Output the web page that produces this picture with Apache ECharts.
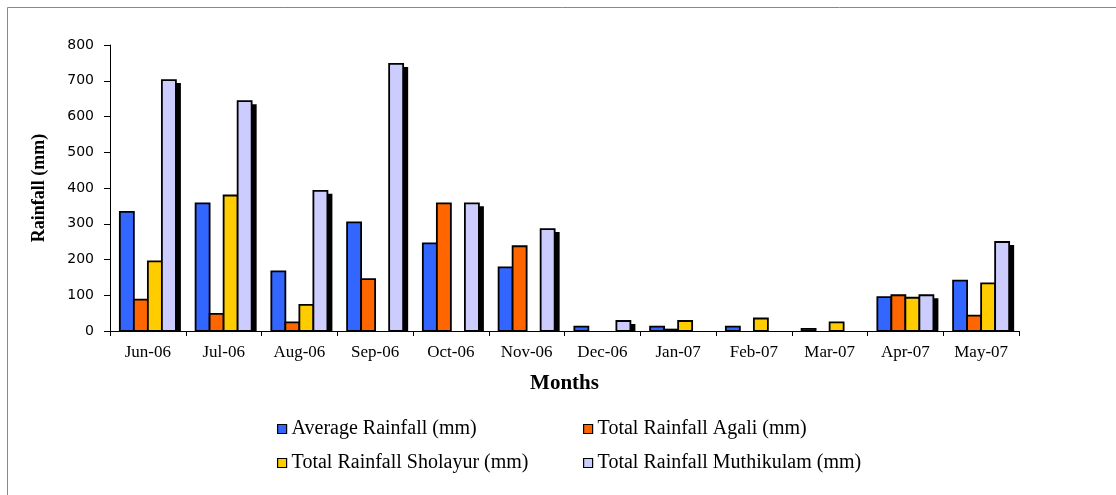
<!DOCTYPE html>
<html>
<head>
<meta charset="utf-8">
<script src="https://cdn.jsdelivr.net/npm/echarts@6/dist/echarts.min.js"></script>
<style>
  html, body { margin: 0; padding: 0; background: #fff; }
  #chart { width: 1116px; height: 495px; }
</style>
</head>
<body>
<div id="chart"></div>
<script>
// Monthly rainfall, June 2006 – May 2007 (mm)
const months = ['Jun-06', 'Jul-06', 'Aug-06', 'Sep-06', 'Oct-06', 'Nov-06',
                'Dec-06', 'Jan-07', 'Feb-07', 'Mar-07', 'Apr-07', 'May-07'];
const averageRainfall = [333, 357, 167, 304, 245, 178, 12, 12, 12, 6, 95, 141];
const agaliRainfall = [88, 48, 24, 145, 357, 237, null, 4, null, null, 100, 43];
const sholayurRainfall = [195, 379, 73, null, null, null, null, 28, 35, 24, 93, 133];
const muthikulamRainfall = [702, 643, 392, 747, 357, 285, 28, null, null, null, 100, 249];
const yTicks = { min: 0, max: 800, interval: 100 };

const seriesNames = ['Average Rainfall (mm)', 'Total Rainfall Agali (mm)',
                     'Total Rainfall Sholayur (mm)', 'Total Rainfall Muthikulam (mm)'];
const seriesColors = ['#3366FF', '#FF6600', '#FFCC00', '#CCCCFF'];
const seriesData = [averageRainfall, agaliRainfall, sholayurRainfall, muthikulamRainfall];

const serif = '"Liberation Serif", "Times New Roman", serif';
const sans = '"DejaVu Sans", Verdana, sans-serif';

const GROUP_FILL = 0.74;       // share of each category band taken by the bar group
const SHADOW_DX = 5, SHADOW_DY = 3;

const chart = echarts.init(document.getElementById('chart'), null, { renderer: 'canvas' });

// one legend per entry so the four items sit in a 2x2 arrangement
const legendSlots = [
  { left: 277, top: 419 }, { left: 583, top: 419 },
  { left: 277, top: 453 }, { left: 583, top: 453 }
];
const legends = seriesNames.map((name, i) => ({
  data: [name],
  left: legendSlots[i].left,
  top: legendSlots[i].top,
  padding: 0,
  icon: 'rect',
  itemWidth: 9,
  itemHeight: 9,
  selectedMode: false,
  itemStyle: { color: seriesColors[i], borderColor: '#000', borderWidth: 1.2 },
  textStyle: { fontFamily: serif, fontSize: 20, color: '#000' }
}));

// grouped bars; the rightmost bar of every group casts a hard drop shadow
function makeRenderItem(seriesIndex, count) {
  return function (params, api) {
    const v = api.value(1);
    if (v == null || isNaN(v)) return null;
    const band = api.size([1, 0])[0];
    const barW = band * GROUP_FILL / count;
    const center = api.coord([api.value(0), 0]);
    const top = api.coord([api.value(0), v]);
    const x = center[0] - band * GROUP_FILL / 2 + seriesIndex * barW;
    const y0 = center[1];
    const children = [];
    if (seriesIndex === count - 1) {
      children.push({
        type: 'rect',
        shape: { x: x + SHADOW_DX, y: top[1] + SHADOW_DY, width: barW, height: Math.max(0, y0 - top[1] - SHADOW_DY) },
        style: { fill: '#000' }
      });
    }
    children.push({
      type: 'rect',
      shape: { x: x, y: top[1], width: barW, height: y0 - top[1] },
      style: { fill: seriesColors[seriesIndex], stroke: '#000', lineWidth: 1.8 }
    });
    return { type: 'group', children: children };
  };
}

const series = seriesData.map((values, i) => ({
  name: seriesNames[i],
  type: 'custom',
  renderItem: makeRenderItem(i, seriesData.length),
  data: values.map((v, k) => [k, v]),
  encode: { x: 0, y: 1 },
  itemStyle: { color: seriesColors[i], borderColor: '#000', borderWidth: 1.2 },
  silent: true,
  animation: false
}));

chart.setOption({
  animation: false,
  backgroundColor: '#fff',
  grid: { left: 110, right: 97, top: 45, bottom: 164, containLabel: false },
  legend: legends,
  xAxis: {
    type: 'category',
    data: months,
    name: 'Months',
    nameLocation: 'middle',
    nameGap: 42,
    nameTextStyle: { fontFamily: serif, fontSize: 21, fontWeight: 'bold', color: '#000' },
    axisLine: { lineStyle: { color: '#000', width: 1 } },
    axisTick: { show: true, length: 5, lineStyle: { color: '#000' }, alignWithLabel: false },
    axisLabel: { fontFamily: serif, fontSize: 17, color: '#000', margin: 13 },
    z: 5
  },
  yAxis: {
    type: 'value',
    min: yTicks.min,
    max: yTicks.max,
    interval: yTicks.interval,
    name: 'Rainfall (mm)',
    nameLocation: 'middle',
    nameGap: 62,
    nameRotate: 90,
    nameTextStyle: { fontFamily: serif, fontSize: 18, fontWeight: 'bold', color: '#000' },
    axisLine: { show: true, lineStyle: { color: '#000', width: 1 } },
    axisTick: { show: true, length: 6, lineStyle: { color: '#000' } },
    axisLabel: { fontFamily: sans, fontSize: 14, color: '#000', margin: 16 },
    splitLine: { show: false }
  },
  graphic: [{
    type: 'rect',
    shape: { x: 7.5, y: 7.5, width: 1200, height: 600 },
    style: { fill: 'none', stroke: '#888', lineWidth: 1 },
    silent: true,
    z: -1
  }],
  series: series
});
</script>
</body>
</html>
